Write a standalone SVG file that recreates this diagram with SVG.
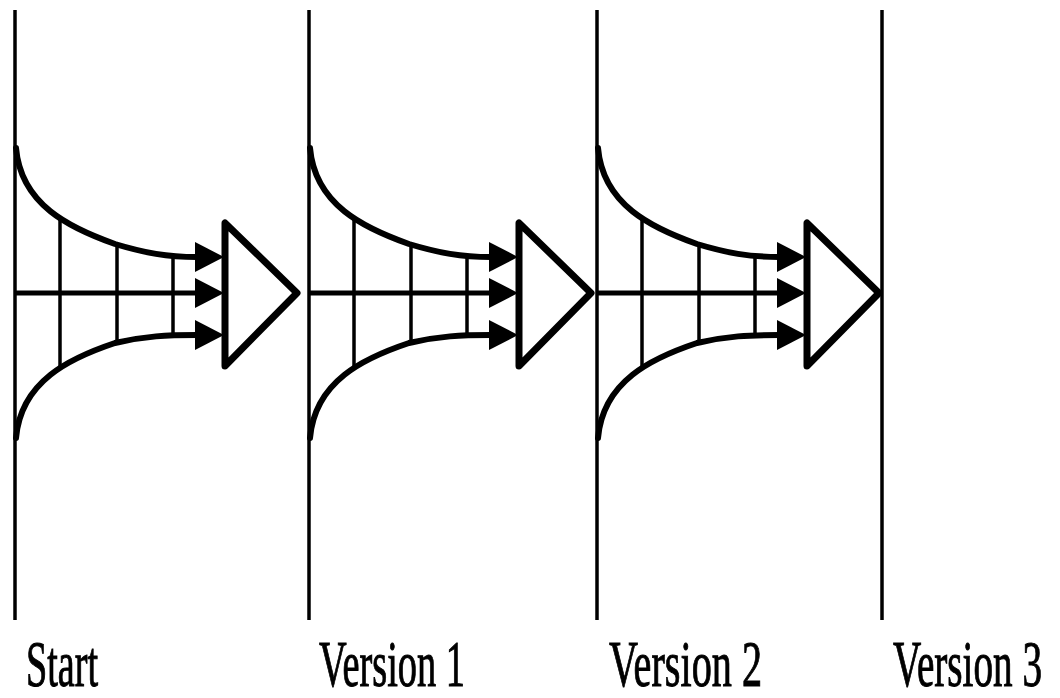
<svg xmlns="http://www.w3.org/2000/svg" xmlns:xlink="http://www.w3.org/1999/xlink" width="1060" height="698" viewBox="0 0 1060 698">
<style>
.axis{stroke:#000;stroke-width:3.5;fill:none}
.curve{stroke:#000;stroke-width:6;fill:none;stroke-linecap:round}
.mid{stroke:#000;stroke-width:5;fill:none}
.grid{stroke:#000;stroke-width:3.5;fill:none}
.head{fill:#000;stroke:none}
.tri{fill:#fff;stroke:#000;stroke-width:7;stroke-linejoin:round}
.lbl{font-family:"Liberation Serif","Times New Roman",serif;font-size:65px;fill:#000;stroke:#000;stroke-width:1}
</style>
<defs>
<g id="funnel">
<line class="grid" x1="45" y1="220" x2="45" y2="370"/>
<line class="grid" x1="102" y1="244" x2="102" y2="344"/>
<line class="grid" x1="158" y1="255" x2="158" y2="336"/>
<path class="curve" d="M1,148 C6,205 55,228 100,244 C130,253 152,257 182,257"/>
<path class="curve" d="M1,438 C6,381 55,358 100,343 C130,336 152,335 182,335"/>
<line class="mid" x1="0" y1="293" x2="182" y2="293"/>
<polygon class="head" points="180,242 209,257 180,272"/>
<polygon class="head" points="180,278 209,293 180,308"/>
<polygon class="head" points="180,320 209,335 180,350"/>
<polygon class="tri" points="210,223 210,366 282,293"/>
</g>
</defs>
<g id="connectors">
<line class="axis" x1="15" y1="10" x2="15" y2="620"/>
<line class="axis" x1="309" y1="10" x2="309" y2="620"/>
<line class="axis" x1="597" y1="10" x2="597" y2="620"/>
<line class="axis" x1="882" y1="10" x2="882" y2="620"/>
</g>
<g id="stage-start"><use xlink:href="#funnel" href="#funnel" transform="translate(15,0)"/></g>
<g id="stage-version1"><use xlink:href="#funnel" href="#funnel" transform="translate(309,0)"/></g>
<g id="stage-version2"><use xlink:href="#funnel" href="#funnel" transform="translate(597,0)"/></g>
<g id="labels">
<text class="lbl" x="26" y="686" textLength="72" lengthAdjust="spacingAndGlyphs">Start</text>
<text class="lbl" x="319" y="686" textLength="146" lengthAdjust="spacingAndGlyphs">Version 1</text>
<text class="lbl" x="609" y="686" textLength="153" lengthAdjust="spacingAndGlyphs">Version 2</text>
<text class="lbl" x="1042" y="686" text-anchor="end" textLength="149" lengthAdjust="spacingAndGlyphs">Version 3</text>
</g>
</svg>
